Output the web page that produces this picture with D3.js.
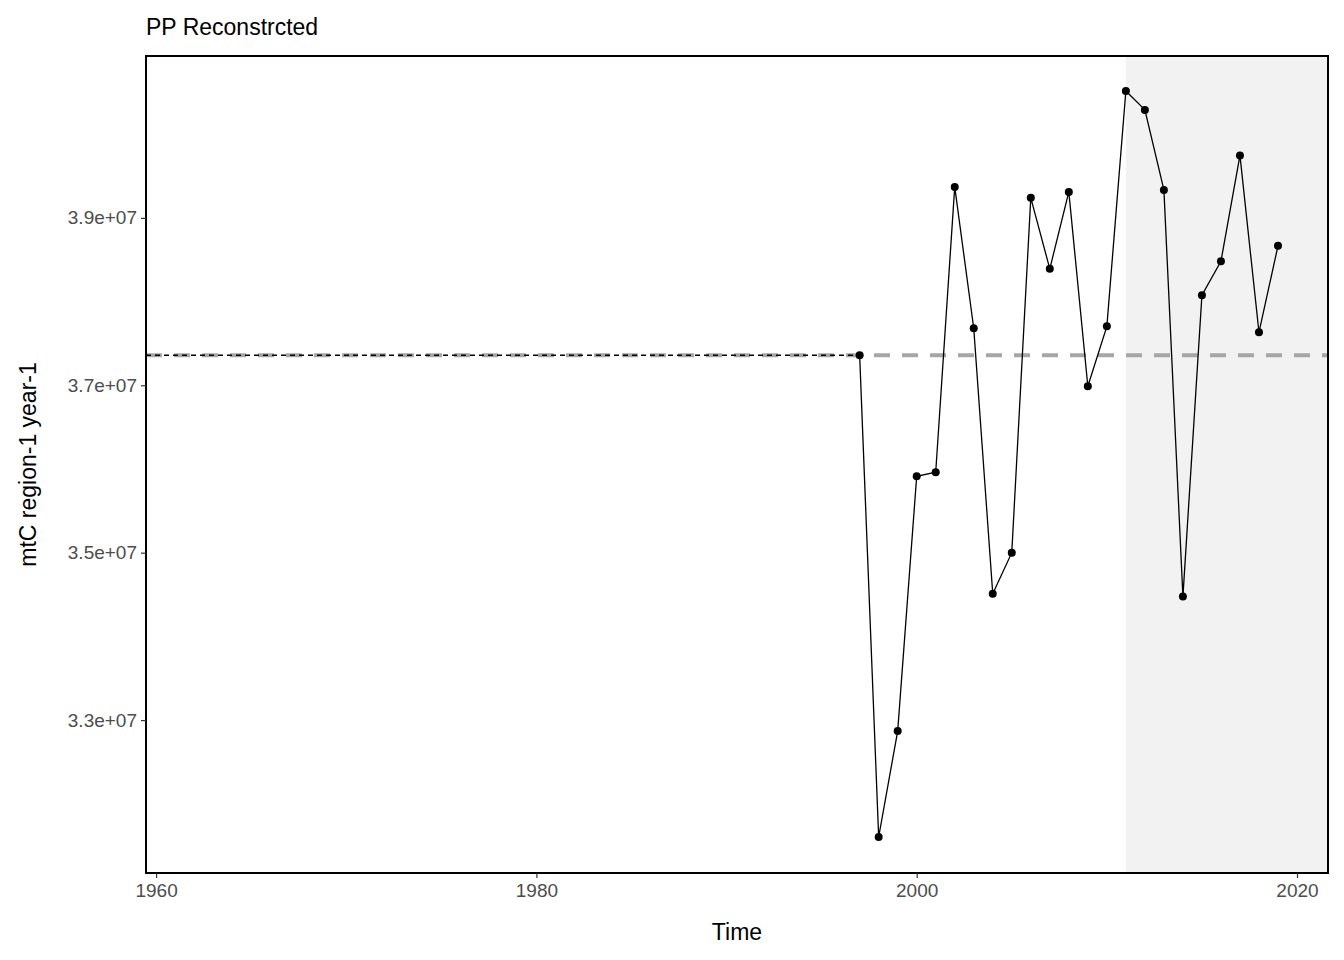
<!DOCTYPE html>
<html><head><meta charset="utf-8">
<script src="https://cdn.jsdelivr.net/npm/d3@7"></script>
<style>body{margin:0;background:#fff;font-family:"Liberation Sans",Arial,sans-serif}</style>
</head><body><svg width="1344" height="960"></svg>
<script>
const years = [1997,1998,1999,2000,2001,2002,2003,2004,2005,2006,2007,2008,2009,2010,2011,2012,2013,2014,2015,2016,2017,2018,2019];
const values = [3.7358e7,3.1603e7,3.2869e7,3.5913e7,3.5961e7,3.937e7,3.7681e7,3.451e7,3.5e7,3.9239e7,3.8391e7,3.931e7,3.6988e7,3.7704e7,4.0516e7,4.029e7,3.9334e7,3.4475e7,3.8075e7,3.8481e7,3.9746e7,3.7633e7,3.8666e7];
const meanValue = 3.7358e7;
const shadeStart = 2011;
const xTicks = [1960,1980,2000,2020];
const yTicks = [3.3e7,3.5e7,3.7e7,3.9e7];

const svg = d3.select('svg');
const L = 146, R = 1328, T = 56, B = 873;
const x = d3.scaleLinear().domain([1959.47, 2021.63]).range([L, R]);
const y = d3.scaleLinear().domain([3.1173e7, 4.0934e7]).range([B, T]);

svg.append('rect').attr('x', x(shadeStart)).attr('y', T)
  .attr('width', R - x(shadeStart)).attr('height', B - T).attr('fill', '#f2f2f2');

svg.append('line').attr('x1', L).attr('x2', R).attr('y1', y(meanValue)).attr('y2', y(meanValue))
  .attr('stroke', '#a6a6a6').attr('stroke-width', 4).attr('stroke-dasharray', '16,12');
svg.append('line').attr('x1', L).attr('x2', x(years[0])).attr('y1', y(meanValue)).attr('y2', y(meanValue))
  .attr('stroke', '#000').attr('stroke-width', 1.5).attr('stroke-dasharray', '5,4');

const line = d3.line().x((d, i) => x(years[i])).y(d => y(d));
svg.append('path').datum(values).attr('d', line).attr('fill', 'none').attr('stroke', '#000').attr('stroke-width', 1.3);
svg.selectAll('circle').data(values).enter().append('circle')
  .attr('cx', (d, i) => x(years[i])).attr('cy', d => y(d)).attr('r', 4).attr('fill', '#000');

svg.append('rect').attr('x', L).attr('y', T).attr('width', R - L).attr('height', B - T)
  .attr('fill', 'none').attr('stroke', '#000').attr('stroke-width', 2);

const xa = svg.append('g').attr('transform', `translate(0,${B})`)
  .call(d3.axisBottom(x).tickValues(xTicks).tickFormat(d3.format('d')).tickSize(5).tickPadding(6));
const ya = svg.append('g').attr('transform', `translate(${L},0)`)
  .call(d3.axisLeft(y).tickValues(yTicks).tickFormat(d => d3.format('.1e')(d).replace('e+', 'e+0')).tickSize(5).tickPadding(4));
[xa, ya].forEach(a => {
  a.select('.domain').remove();
  a.selectAll('line').attr('stroke', '#333').attr('stroke-width', 1.2);
  a.selectAll('text').attr('fill', '#4d4d4d').style('font-size', '19px').style('font-family', '"Liberation Sans",Arial,sans-serif');
});

svg.append('text').attr('x', 146).attr('y', 35).text('PP Reconstrcted').style('font-size', '23px');
svg.append('text').attr('x', (L + R) / 2).attr('y', 940).attr('text-anchor', 'middle').text('Time').style('font-size', '23px');
svg.append('text').attr('transform', `translate(36,${(T + B) / 2}) rotate(-90)`).attr('text-anchor', 'middle')
  .text('mtC region-1 year-1').style('font-size', '23px');
</script></body></html>
